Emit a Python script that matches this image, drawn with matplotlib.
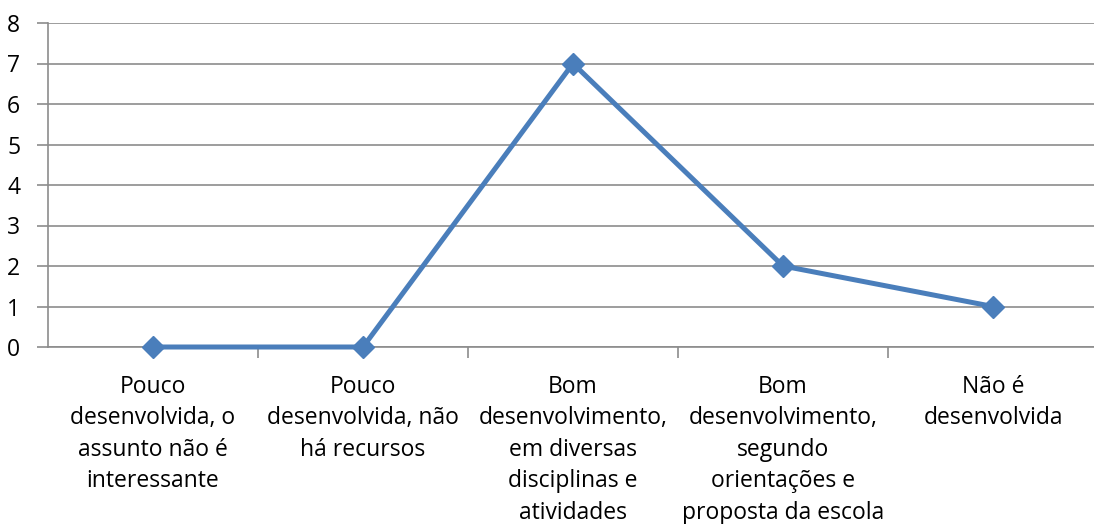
import matplotlib.pyplot as plt

categories = [
    "Pouco\ndesenvolvida, o\nassunto não é\ninteressante",
    "Pouco\ndesenvolvida, não\nhá recursos",
    "Bom\ndesenvolvimento,\nem diversas\ndisciplinas e\natividades",
    "Bom\ndesenvolvimento,\nsegundo\norientações e\nproposta da escola",
    "Não é\ndesenvolvida",
]
values = [0, 0, 7, 2, 1]
yticks = list(range(0, 9))

plt.rcParams['font.family'] = ['Open Sans', 'DejaVu Sans']
grid_col = "#8c8c8c"

fig = plt.figure(figsize=(10.94, 5.24), dpi=100)
# plot area in pixels: x 48..1098, y 23..347
W, H = 1094, 524
ax = fig.add_axes([48 / W, 1 - 347 / H, 1050 / W, 324 / H])
ax.plot(range(len(values)), values, color="#4a7ebb", lw=3.6,
        marker="D", markersize=11, markerfacecolor="#4a7ebb",
        markeredgecolor="#4a7ebb", zorder=3, clip_on=False)
ax.set_xlim(-0.5, len(values) - 0.5)
ax.set_ylim(0, 8)
ax.set_yticks(yticks)
ax.yaxis.grid(True, color=grid_col, lw=1.2)
ax.set_axisbelow(True)
for s in ("top", "right"):
    ax.spines[s].set_visible(False)
ax.spines["left"].set_color(grid_col)
ax.spines["bottom"].set_color(grid_col)
ax.spines["left"].set_linewidth(1.2)
ax.spines["bottom"].set_linewidth(1.2)

ax.set_xticks(range(len(values)))
ax.set_xticklabels(categories, fontsize=16.5, linespacing=1.42, va="top")
ax.tick_params(axis="x", length=0, pad=20)
# category boundary ticks
ax.set_xticks([i + 0.5 for i in range(len(values) - 1)], minor=True)
ax.tick_params(axis="x", which="minor", length=8, color=grid_col, width=1.2)
ax.tick_params(axis="y", length=8, color=grid_col, width=1.2, labelsize=16.5, pad=12)

fig.savefig("out.png", dpi=100)
